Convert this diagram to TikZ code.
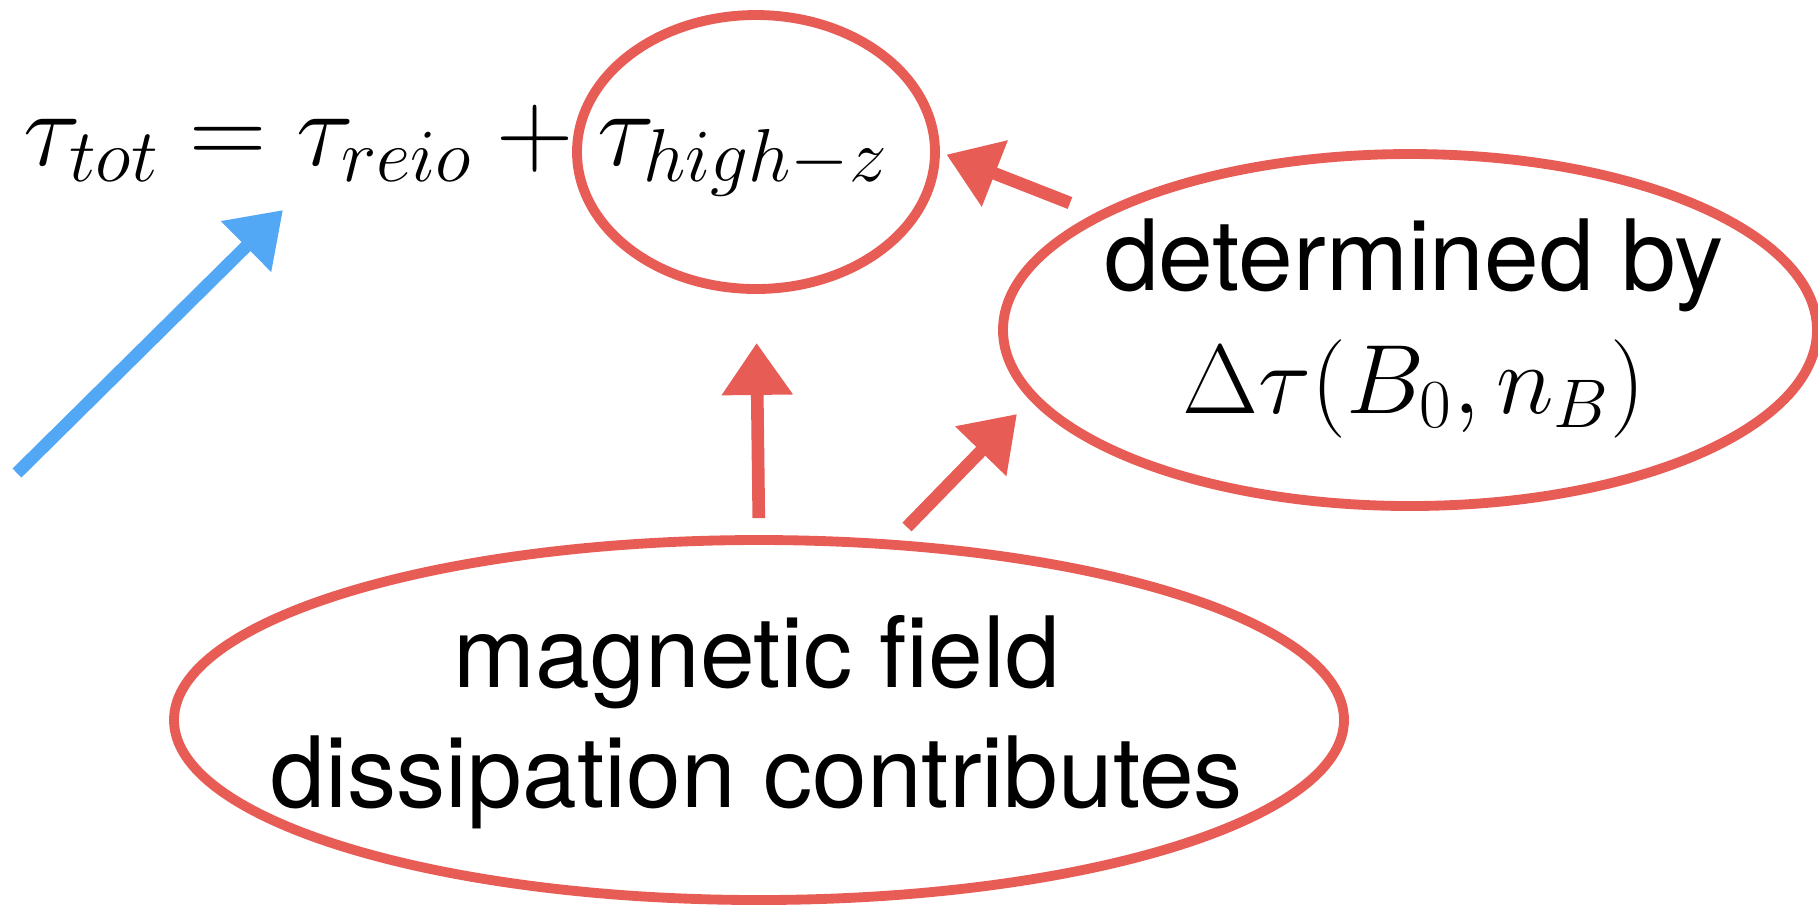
\RequirePackage{fix-cm}
\documentclass[tikz,border=0pt]{standalone}
\usepackage{fontspec}
\setmainfont{TeX Gyre Heros}
\usepackage{tikz}
\usetikzlibrary{arrows.meta, positioning, shapes.geometric}
\definecolor{sketchred}{RGB}{232,92,86}
\definecolor{sketchblue}{RGB}{82,168,245}
\tikzset{
  loop/.style={ellipse, draw=sketchred, line width=2.8pt, inner sep=0pt},
  lbl/.style={align=center, inner sep=0pt},
  redarrow/.style={-{Triangle[length=0.52cm, width=0.68cm]}, line width=3.6pt, color=sketchred},
  bluearrow/.style={-{Triangle[length=0.52cm, width=0.68cm]}, line width=3.6pt, color=sketchblue}
}

\begin{document}
\begin{tikzpicture}
  \useasboundingbox (0,0) rectangle (18.18,-9.05);

  % Equation
  \node[anchor=base west, inner sep=0pt, font=\fontsize{30.5}{36}\selectfont] (taueq) at (0.23,-1.65)
    {$\tau_{tot} = \tau_{reio} + \tau_{high-z}$};

  % Ellipses
  \node[loop, minimum width=3.58cm, minimum height=2.74cm] (highz) at (7.56,-1.52) {};
  \node[loop, minimum width=8.14cm, minimum height=3.52cm] (detby) at (14.10,-3.30) {};
  \node[loop, minimum width=11.7cm, minimum height=3.6cm] (magdiss) at (7.59,-7.20) {};

  % Labels
  \node[lbl, font=\fontsize{28}{35}\selectfont] (detbytxt) at (14.14,-3.28)
    {determined by\\$\Delta\tau(B_0, n_B)$};
  \node[lbl, font=\fontsize{28}{34}\selectfont] (magdisstxt) at (7.57,-7.22)
    {magnetic field\\dissipation contributes};

  % Free arrow ends
  \coordinate (btail) at (0.17,-4.73);
  \coordinate (btip) at (2.83,-2.10);
  \coordinate (dtail) at (9.07,-5.27);
  \coordinate (dtip) at (10.17,-4.14);
  \coordinate (rtail) at (10.70,-2.03);

  % Arrows
  \draw[bluearrow] (btail) -- (btip);
  \draw[redarrow, shorten <=0.17cm, shorten >=0.49cm] (magdiss.north) -- (highz.south);
  \draw[redarrow] (dtail) -- (dtip);
  \draw[redarrow, shorten >=0.07cm] (rtail) -- (highz.east);
\end{tikzpicture}
\end{document}
